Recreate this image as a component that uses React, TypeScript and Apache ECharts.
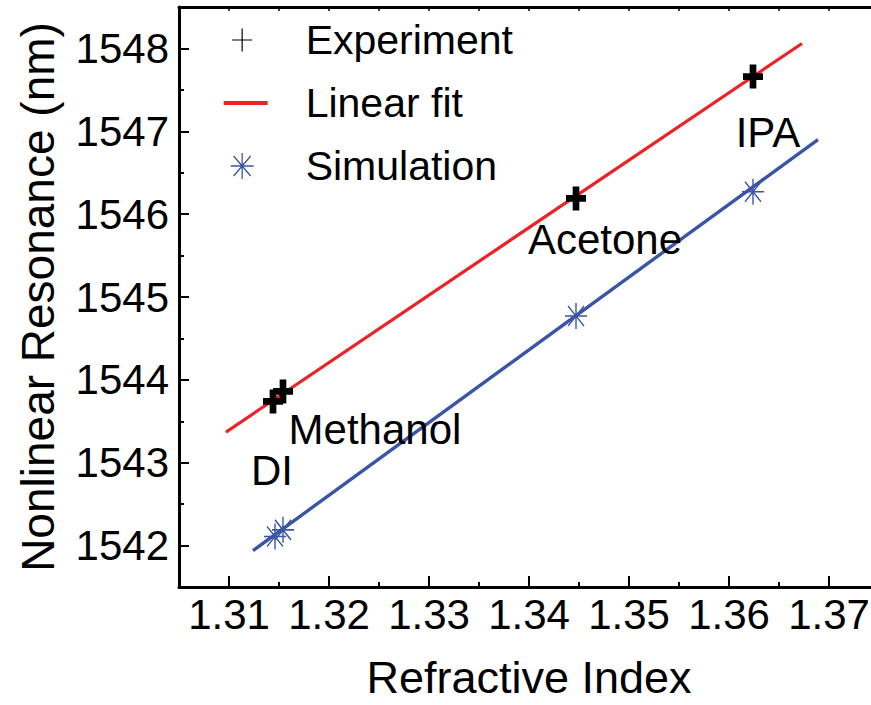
import React, { useEffect, useRef } from "react";
import * as echarts from "echarts";

// Experiment (black crosses)
const expIndex = [1.3144, 1.3154, 1.3447, 1.3624];
const expResonance = [1543.74, 1543.86, 1546.19, 1547.66];
// Simulation (blue asterisks)
const simIndex = [1.3146, 1.3154, 1.3447, 1.3624];
const simResonance = [1542.11, 1542.19, 1544.77, 1546.27];
// Linear fit of experiment (red)
const fitIndex = [1.3097, 1.3673];
const fitResonance = [1543.37, 1548.06];
// Fit line through simulation (blue)
const simFitIndex = [1.3124, 1.3689];
const simFitResonance = [1541.94, 1546.9];
// Liquid annotations
const liquidNames = ["DI", "Methanol", "Acetone", "IPA"];
const liquidIndex = [1.3143, 1.3246, 1.3476, 1.3639];
const liquidResonance = [1542.91, 1543.4, 1545.69, 1546.99];
// Axis ticks
const xMajorTicks = [1.31, 1.32, 1.33, 1.34, 1.35, 1.36, 1.37];
const xMinorTicks = [1.305, 1.315, 1.325, 1.335, 1.345, 1.355, 1.365, 1.375];
const yMajorTicks = [1542, 1543, 1544, 1545, 1546, 1547, 1548];
const yMinorTicks = [1542.5, 1543.5, 1544.5, 1545.5, 1546.5, 1547.5];

const FONT = "'Liberation Sans', Arial, sans-serif";
const RED = "#ec2227";
const BLUE = "#3b55a6";

const X_MIN = 1.305;
const X_MAX = 1.375;
const Y_MIN = 1541.5;
const Y_MAX = 1548.5;

const pairs = (xs: number[], ys: number[]) => xs.map((x, i) => [x, ys[i]]);

const bigPlus = "path://M7,0H14V9H21V16H14V25H7V16H0V9H7Z";
const asterisk = "path://M11,0V26M0,13H22M3,3L19,23M19,3L3,23";

export default function App() {
  const ref = useRef<HTMLDivElement>(null);
  useEffect(() => {
    if (!ref.current) return;
    const chart = echarts.init(ref.current, undefined, { renderer: "svg" });
    const axisLine = { show: true, lineStyle: { color: "#000", width: 3, opacity: 1 } };
    chart.setOption({
      animation: false,
      backgroundColor: "#fff",
      textStyle: { fontFamily: FONT },
      grid: { left: 179, top: 7, bottom: 118, right: -8, containLabel: false, outerBoundsMode: "none" },
      legend: {
        orient: "vertical",
        left: 223,
        top: 19,
        padding: 0,
        itemWidth: 44,
        itemHeight: 26,
        itemGap: 21,
        textStyle: { fontSize: 41, lineHeight: 42, color: "#000", fontFamily: FONT, padding: [0, 0, 0, 33] },
        data: [
          {
            name: "Experiment",
            icon: "path://M0,0M44,26M8.5,12.4H28.5V13.6H8.5ZM17.9,1.5H19.1V24.5H17.9Z",
            itemStyle: { color: "#000", borderWidth: 0, opacity: 1 },
          },
          {
            name: "Linear fit",
            icon: "path://M0,0M44,26M0,11H44V15H0Z",
            itemStyle: { color: RED, borderWidth: 0, opacity: 1 },
          },
          {
            name: "Simulation",
            icon: "path://M0,0M44,26M18.5,0V26M7,13H30M10,3L27,23M27,3L10,23",
            itemStyle: { color: "transparent", borderColor: BLUE, borderWidth: 1.3, opacity: 1 },
          },
        ],
      },
      xAxis: [
        {
          type: "value",
          min: X_MIN,
          max: X_MAX,
          position: "bottom",
          name: "Refractive Index",
          nameLocation: "middle",
          nameGap: 68,
          nameTextStyle: { fontSize: 45, color: "#000", fontFamily: FONT },
          axisLine,
          axisTick: { show: true, inside: true, length: 11, customValues: xMajorTicks, lineStyle: { color: "#000", width: 2 } },
          axisLabel: {
            show: true,
            customValues: xMajorTicks,
            fontSize: 42,
            color: "#000",
            margin: 6,
            fontFamily: FONT,
            formatter: (v: number) => v.toFixed(2),
          },
          splitLine: { show: false },
        },
        {
          type: "value",
          min: X_MIN,
          max: X_MAX,
          position: "bottom",
          axisLine: { show: false },
          axisTick: { show: true, inside: true, length: 5, customValues: xMinorTicks, lineStyle: { color: "#000", width: 2 } },
          axisLabel: { show: false },
          splitLine: { show: false },
        },
        {
          type: "value",
          min: X_MIN,
          max: X_MAX,
          position: "top",
          axisLine,
          axisTick: {
            show: true,
            inside: true,
            length: 4,
            customValues: [...xMajorTicks, ...xMinorTicks],
            lineStyle: { color: "#000", width: 1.5 },
          },
          axisLabel: { show: false },
          splitLine: { show: false },
        },
      ],
      yAxis: [
        {
          type: "value",
          min: Y_MIN,
          max: Y_MAX,
          position: "left",
          name: "Nonlinear Resonance (nm)",
          nameLocation: "middle",
          nameRotate: 90,
          nameGap: 118,
          nameTextStyle: { fontSize: 46, color: "#000", fontFamily: FONT },
          axisLine,
          axisTick: { show: true, inside: true, length: 10, customValues: yMajorTicks, lineStyle: { color: "#000", width: 2 } },
          axisLabel: {
            show: true,
            customValues: yMajorTicks,
            fontSize: 42,
            color: "#000",
            margin: 10,
            fontFamily: FONT,
            formatter: (v: number) => String(Math.round(v)),
          },
          splitLine: { show: false },
        },
        {
          type: "value",
          min: Y_MIN,
          max: Y_MAX,
          position: "left",
          axisLine: { show: false },
          axisTick: { show: true, inside: true, length: 5, customValues: yMinorTicks, lineStyle: { color: "#000", width: 2 } },
          axisLabel: { show: false },
          splitLine: { show: false },
        },
      ],
      series: [
        {
          name: "Linear fit",
          type: "line",
          data: pairs(fitIndex, fitResonance),
          showSymbol: false,
          symbol: "none",
          lineStyle: { color: RED, width: 3.2 },
          itemStyle: { color: RED },
          z: 2,
        },
        {
          name: "Simulation fit",
          type: "line",
          data: pairs(simFitIndex, simFitResonance),
          showSymbol: false,
          symbol: "none",
          lineStyle: { color: BLUE, width: 3.4 },
          itemStyle: { color: BLUE },
          z: 2,
        },
        {
          name: "Experiment",
          type: "scatter",
          data: pairs(expIndex, expResonance),
          symbol: bigPlus,
          symbolSize: [20, 24],
          itemStyle: { color: "#000", borderWidth: 0, opacity: 1 },
          z: 3,
        },
        {
          name: "Simulation",
          type: "scatter",
          data: pairs(simIndex, simResonance),
          symbol: asterisk,
          symbolSize: [22, 26],
          itemStyle: { color: "transparent", borderColor: BLUE, borderWidth: 1.5, opacity: 1 },
          z: 3,
        },
        {
          name: "Liquids",
          type: "scatter",
          data: liquidNames.map((n, i) => ({ name: n, value: [liquidIndex[i], liquidResonance[i]] })),
          symbolSize: 1,
          itemStyle: { color: "transparent", opacity: 1 },
          silent: true,
          label: {
            show: true,
            position: "inside",
            formatter: (p: any) => p.name,
            fontSize: 42,
            color: "#000",
            opacity: 1,
            fontFamily: FONT,
          },
          z: 4,
        },
      ],
    });
    return () => chart.dispose();
  }, []);
  return (
    <div
      ref={ref}
      style={{ position: "fixed", left: 0, top: 0, width: 871, height: 705, background: "#fff" }}
    />
  );
}
